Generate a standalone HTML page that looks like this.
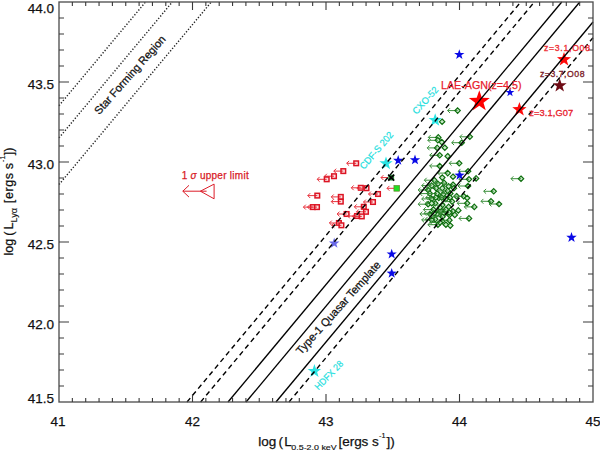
<!DOCTYPE html>
<html><head><meta charset="utf-8"><style>
html,body{margin:0;padding:0;background:#fff;width:600px;height:450px;overflow:hidden}
svg{display:block}
text{font-family:"Liberation Sans",sans-serif}
</style></head><body>
<svg width="600" height="450" viewBox="0 0 600 450">
<rect width="600" height="450" fill="#fff"/>
<g>
<rect x="353.90" y="161.00" width="4.6" height="4.6" fill="#fbe0e2" stroke="none"/>
<path d="M356.20 163.30H346.70M349.10 160.90L346.70 163.30L349.10 165.70" stroke="#e8323c" stroke-width="1.0" fill="none"/>
<rect x="353.90" y="161.00" width="4.6" height="4.6" fill="none" stroke="#dc1424" stroke-width="1.5"/>
<rect x="341.00" y="168.80" width="4.6" height="4.6" fill="#fbe0e2" stroke="none"/>
<path d="M343.30 171.10H333.80M336.20 168.70L333.80 171.10L336.20 173.50" stroke="#e8323c" stroke-width="1.0" fill="none"/>
<rect x="341.00" y="168.80" width="4.6" height="4.6" fill="none" stroke="#dc1424" stroke-width="1.5"/>
<rect x="331.70" y="173.90" width="4.6" height="4.6" fill="#fbe0e2" stroke="none"/>
<path d="M334.00 176.20H324.50M326.90 173.80L324.50 176.20L326.90 178.60" stroke="#e8323c" stroke-width="1.0" fill="none"/>
<rect x="331.70" y="173.90" width="4.6" height="4.6" fill="none" stroke="#dc1424" stroke-width="1.5"/>
<rect x="324.40" y="177.00" width="4.6" height="4.6" fill="#fbe0e2" stroke="none"/>
<path d="M326.70 179.30H317.20M319.60 176.90L317.20 179.30L319.60 181.70" stroke="#e8323c" stroke-width="1.0" fill="none"/>
<rect x="324.40" y="177.00" width="4.6" height="4.6" fill="none" stroke="#dc1424" stroke-width="1.5"/>
<rect x="358.50" y="185.50" width="4.6" height="4.6" fill="#fbe0e2" stroke="none"/>
<path d="M360.80 187.80H351.30M353.70 185.40L351.30 187.80L353.70 190.20" stroke="#e8323c" stroke-width="1.0" fill="none"/>
<rect x="358.50" y="185.50" width="4.6" height="4.6" fill="none" stroke="#dc1424" stroke-width="1.5"/>
<rect x="364.20" y="185.90" width="4.6" height="4.6" fill="#fbe0e2" stroke="none"/>
<path d="M366.50 188.20H357.00M359.40 185.80L357.00 188.20L359.40 190.60" stroke="#e8323c" stroke-width="1.0" fill="none"/>
<rect x="364.20" y="185.90" width="4.6" height="4.6" fill="none" stroke="#dc1424" stroke-width="1.5"/>
<rect x="375.70" y="191.70" width="4.6" height="4.6" fill="#fbe0e2" stroke="none"/>
<path d="M378.00 194.00H368.50M370.90 191.60L368.50 194.00L370.90 196.40" stroke="#e8323c" stroke-width="1.0" fill="none"/>
<rect x="375.70" y="191.70" width="4.6" height="4.6" fill="none" stroke="#dc1424" stroke-width="1.5"/>
<rect x="315.00" y="193.30" width="4.6" height="4.6" fill="#fbe0e2" stroke="none"/>
<path d="M317.30 195.60H307.80M310.20 193.20L307.80 195.60L310.20 198.00" stroke="#e8323c" stroke-width="1.0" fill="none"/>
<rect x="315.00" y="193.30" width="4.6" height="4.6" fill="none" stroke="#dc1424" stroke-width="1.5"/>
<rect x="338.50" y="194.60" width="4.6" height="4.6" fill="#fbe0e2" stroke="none"/>
<path d="M340.80 196.90H331.30M333.70 194.50L331.30 196.90L333.70 199.30" stroke="#e8323c" stroke-width="1.0" fill="none"/>
<rect x="338.50" y="194.60" width="4.6" height="4.6" fill="none" stroke="#dc1424" stroke-width="1.5"/>
<rect x="338.50" y="199.30" width="4.6" height="4.6" fill="#fbe0e2" stroke="none"/>
<path d="M340.80 201.60H331.30M333.70 199.20L331.30 201.60L333.70 204.00" stroke="#e8323c" stroke-width="1.0" fill="none"/>
<rect x="338.50" y="199.30" width="4.6" height="4.6" fill="none" stroke="#dc1424" stroke-width="1.5"/>
<rect x="310.60" y="204.80" width="4.6" height="4.6" fill="#fbe0e2" stroke="none"/>
<path d="M312.90 207.10H303.40M305.80 204.70L303.40 207.10L305.80 209.50" stroke="#e8323c" stroke-width="1.0" fill="none"/>
<rect x="310.60" y="204.80" width="4.6" height="4.6" fill="none" stroke="#dc1424" stroke-width="1.5"/>
<rect x="314.70" y="204.80" width="4.6" height="4.6" fill="#fbe0e2" stroke="none"/>
<path d="M317.00 207.10H307.50M309.90 204.70L307.50 207.10L309.90 209.50" stroke="#e8323c" stroke-width="1.0" fill="none"/>
<rect x="314.70" y="204.80" width="4.6" height="4.6" fill="none" stroke="#dc1424" stroke-width="1.5"/>
<rect x="370.70" y="199.70" width="4.6" height="4.6" fill="#fbe0e2" stroke="none"/>
<path d="M373.00 202.00H363.50M365.90 199.60L363.50 202.00L365.90 204.40" stroke="#e8323c" stroke-width="1.0" fill="none"/>
<rect x="370.70" y="199.70" width="4.6" height="4.6" fill="none" stroke="#dc1424" stroke-width="1.5"/>
<rect x="361.50" y="204.50" width="4.6" height="4.6" fill="#fbe0e2" stroke="none"/>
<path d="M363.80 206.80H354.30M356.70 204.40L354.30 206.80L356.70 209.20" stroke="#e8323c" stroke-width="1.0" fill="none"/>
<rect x="361.50" y="204.50" width="4.6" height="4.6" fill="none" stroke="#dc1424" stroke-width="1.5"/>
<rect x="363.70" y="209.50" width="4.6" height="4.6" fill="#fbe0e2" stroke="none"/>
<path d="M366.00 211.80H356.50M358.90 209.40L356.50 211.80L358.90 214.20" stroke="#e8323c" stroke-width="1.0" fill="none"/>
<rect x="363.70" y="209.50" width="4.6" height="4.6" fill="none" stroke="#dc1424" stroke-width="1.5"/>
<rect x="344.30" y="211.70" width="4.6" height="4.6" fill="#fbe0e2" stroke="none"/>
<path d="M346.60 214.00H337.10M339.50 211.60L337.10 214.00L339.50 216.40" stroke="#e8323c" stroke-width="1.0" fill="none"/>
<rect x="344.30" y="211.70" width="4.6" height="4.6" fill="none" stroke="#dc1424" stroke-width="1.5"/>
<rect x="354.70" y="213.70" width="4.6" height="4.6" fill="#fbe0e2" stroke="none"/>
<path d="M357.00 216.00H347.50M349.90 213.60L347.50 216.00L349.90 218.40" stroke="#e8323c" stroke-width="1.0" fill="none"/>
<rect x="354.70" y="213.70" width="4.6" height="4.6" fill="none" stroke="#dc1424" stroke-width="1.5"/>
<rect x="359.50" y="214.10" width="4.6" height="4.6" fill="#fbe0e2" stroke="none"/>
<path d="M361.80 216.40H352.30M354.70 214.00L352.30 216.40L354.70 218.80" stroke="#e8323c" stroke-width="1.0" fill="none"/>
<rect x="359.50" y="214.10" width="4.6" height="4.6" fill="none" stroke="#dc1424" stroke-width="1.5"/>
<rect x="336.60" y="220.70" width="4.6" height="4.6" fill="#fbe0e2" stroke="none"/>
<path d="M338.90 223.00H329.40M331.80 220.60L329.40 223.00L331.80 225.40" stroke="#e8323c" stroke-width="1.0" fill="none"/>
<rect x="336.60" y="220.70" width="4.6" height="4.6" fill="none" stroke="#dc1424" stroke-width="1.5"/>
<rect x="339.10" y="223.00" width="4.6" height="4.6" fill="#fbe0e2" stroke="none"/>
<path d="M341.40 225.30H331.90M334.30 222.90L331.90 225.30L334.30 227.70" stroke="#e8323c" stroke-width="1.0" fill="none"/>
<rect x="339.10" y="223.00" width="4.6" height="4.6" fill="none" stroke="#dc1424" stroke-width="1.5"/>
<path d="M439.70 152.60L442.40 155.30L439.70 158.00L437.00 155.30Z" fill="#c8e8c8"/>
<path d="M439.70 155.30H429.70M432.10 152.90L429.70 155.30L432.10 157.70" stroke="#3b8f3b" stroke-width="1.0" fill="none"/>
<path d="M439.70 152.60L442.40 155.30L439.70 158.00L437.00 155.30Z" fill="none" stroke="#0e6e0e" stroke-width="1.2"/>
<path d="M447.70 153.50L450.40 156.20L447.70 158.90L445.00 156.20Z" fill="#c8e8c8"/>
<path d="M447.70 153.50L450.40 156.20L447.70 158.90L445.00 156.20Z" fill="none" stroke="#0e6e0e" stroke-width="1.2"/>
<path d="M439.70 163.30L442.40 166.00L439.70 168.70L437.00 166.00Z" fill="#c8e8c8"/>
<path d="M439.70 166.00H429.70M432.10 163.60L429.70 166.00L432.10 168.40" stroke="#3b8f3b" stroke-width="1.0" fill="none"/>
<path d="M439.70 163.30L442.40 166.00L439.70 168.70L437.00 166.00Z" fill="none" stroke="#0e6e0e" stroke-width="1.2"/>
<path d="M459.20 160.60L461.90 163.30L459.20 166.00L456.50 163.30Z" fill="#c8e8c8"/>
<path d="M459.20 163.30H449.20M451.60 160.90L449.20 163.30L451.60 165.70" stroke="#3b8f3b" stroke-width="1.0" fill="none"/>
<path d="M459.20 160.60L461.90 163.30L459.20 166.00L456.50 163.30Z" fill="none" stroke="#0e6e0e" stroke-width="1.2"/>
<path d="M447.70 170.40L450.40 173.10L447.70 175.80L445.00 173.10Z" fill="#c8e8c8"/>
<path d="M447.70 173.10H437.70M440.10 170.70L437.70 173.10L440.10 175.50" stroke="#3b8f3b" stroke-width="1.0" fill="none"/>
<path d="M447.70 170.40L450.40 173.10L447.70 175.80L445.00 173.10Z" fill="none" stroke="#0e6e0e" stroke-width="1.2"/>
<path d="M442.30 174.90L445.00 177.60L442.30 180.30L439.60 177.60Z" fill="#c8e8c8"/>
<path d="M442.30 174.90L445.00 177.60L442.30 180.30L439.60 177.60Z" fill="none" stroke="#0e6e0e" stroke-width="1.2"/>
<path d="M453.00 174.00L455.70 176.70L453.00 179.40L450.30 176.70Z" fill="#c8e8c8"/>
<path d="M453.00 174.00L455.70 176.70L453.00 179.40L450.30 176.70Z" fill="none" stroke="#0e6e0e" stroke-width="1.2"/>
<path d="M468.10 168.60L470.80 171.30L468.10 174.00L465.40 171.30Z" fill="#c8e8c8"/>
<path d="M468.10 171.30H458.10M460.50 168.90L458.10 171.30L460.50 173.70" stroke="#3b8f3b" stroke-width="1.0" fill="none"/>
<path d="M468.10 168.60L470.80 171.30L468.10 174.00L465.40 171.30Z" fill="none" stroke="#0e6e0e" stroke-width="1.2"/>
<path d="M469.00 176.60L471.70 179.30L469.00 182.00L466.30 179.30Z" fill="#c8e8c8"/>
<path d="M469.00 179.30H459.00M461.40 176.90L459.00 179.30L461.40 181.70" stroke="#3b8f3b" stroke-width="1.0" fill="none"/>
<path d="M469.00 176.60L471.70 179.30L469.00 182.00L466.30 179.30Z" fill="none" stroke="#0e6e0e" stroke-width="1.2"/>
<path d="M476.10 175.70L478.80 178.40L476.10 181.10L473.40 178.40Z" fill="#c8e8c8"/>
<path d="M476.10 175.70L478.80 178.40L476.10 181.10L473.40 178.40Z" fill="none" stroke="#0e6e0e" stroke-width="1.2"/>
<path d="M434.30 177.50L437.00 180.20L434.30 182.90L431.60 180.20Z" fill="#c8e8c8"/>
<path d="M434.30 180.20H424.30M426.70 177.80L424.30 180.20L426.70 182.60" stroke="#3b8f3b" stroke-width="1.0" fill="none"/>
<path d="M434.30 177.50L437.00 180.20L434.30 182.90L431.60 180.20Z" fill="none" stroke="#0e6e0e" stroke-width="1.2"/>
<path d="M431.70 182.90L434.40 185.60L431.70 188.30L429.00 185.60Z" fill="#c8e8c8"/>
<path d="M431.70 185.60H421.70M424.10 183.20L421.70 185.60L424.10 188.00" stroke="#3b8f3b" stroke-width="1.0" fill="none"/>
<path d="M431.70 182.90L434.40 185.60L431.70 188.30L429.00 185.60Z" fill="none" stroke="#0e6e0e" stroke-width="1.2"/>
<path d="M437.90 181.10L440.60 183.80L437.90 186.50L435.20 183.80Z" fill="#c8e8c8"/>
<path d="M437.90 183.80H427.90M430.30 181.40L427.90 183.80L430.30 186.20" stroke="#3b8f3b" stroke-width="1.0" fill="none"/>
<path d="M437.90 181.10L440.60 183.80L437.90 186.50L435.20 183.80Z" fill="none" stroke="#0e6e0e" stroke-width="1.2"/>
<path d="M444.10 180.20L446.80 182.90L444.10 185.60L441.40 182.90Z" fill="#c8e8c8"/>
<path d="M444.10 182.90H434.10M436.50 180.50L434.10 182.90L436.50 185.30" stroke="#3b8f3b" stroke-width="1.0" fill="none"/>
<path d="M444.10 180.20L446.80 182.90L444.10 185.60L441.40 182.90Z" fill="none" stroke="#0e6e0e" stroke-width="1.2"/>
<path d="M448.60 183.70L451.30 186.40L448.60 189.10L445.90 186.40Z" fill="#c8e8c8"/>
<path d="M448.60 183.70L451.30 186.40L448.60 189.10L445.90 186.40Z" fill="none" stroke="#0e6e0e" stroke-width="1.2"/>
<path d="M453.00 182.00L455.70 184.70L453.00 187.40L450.30 184.70Z" fill="#c8e8c8"/>
<path d="M453.00 184.70H443.00M445.40 182.30L443.00 184.70L445.40 187.10" stroke="#3b8f3b" stroke-width="1.0" fill="none"/>
<path d="M453.00 182.00L455.70 184.70L453.00 187.40L450.30 184.70Z" fill="none" stroke="#0e6e0e" stroke-width="1.2"/>
<path d="M428.10 187.30L430.80 190.00L428.10 192.70L425.40 190.00Z" fill="#c8e8c8"/>
<path d="M428.10 190.00H418.10M420.50 187.60L418.10 190.00L420.50 192.40" stroke="#3b8f3b" stroke-width="1.0" fill="none"/>
<path d="M428.10 187.30L430.80 190.00L428.10 192.70L425.40 190.00Z" fill="none" stroke="#0e6e0e" stroke-width="1.2"/>
<path d="M436.10 185.50L438.80 188.20L436.10 190.90L433.40 188.20Z" fill="#c8e8c8"/>
<path d="M436.10 188.20H426.10M428.50 185.80L426.10 188.20L428.50 190.60" stroke="#3b8f3b" stroke-width="1.0" fill="none"/>
<path d="M436.10 185.50L438.80 188.20L436.10 190.90L433.40 188.20Z" fill="none" stroke="#0e6e0e" stroke-width="1.2"/>
<path d="M442.30 185.50L445.00 188.20L442.30 190.90L439.60 188.20Z" fill="#c8e8c8"/>
<path d="M442.30 185.50L445.00 188.20L442.30 190.90L439.60 188.20Z" fill="none" stroke="#0e6e0e" stroke-width="1.2"/>
<path d="M447.70 188.20L450.40 190.90L447.70 193.60L445.00 190.90Z" fill="#c8e8c8"/>
<path d="M447.70 190.90H437.70M440.10 188.50L437.70 190.90L440.10 193.30" stroke="#3b8f3b" stroke-width="1.0" fill="none"/>
<path d="M447.70 188.20L450.40 190.90L447.70 193.60L445.00 190.90Z" fill="none" stroke="#0e6e0e" stroke-width="1.2"/>
<path d="M453.90 185.50L456.60 188.20L453.90 190.90L451.20 188.20Z" fill="#c8e8c8"/>
<path d="M453.90 185.50L456.60 188.20L453.90 190.90L451.20 188.20Z" fill="none" stroke="#0e6e0e" stroke-width="1.2"/>
<path d="M429.90 190.90L432.60 193.60L429.90 196.30L427.20 193.60Z" fill="#c8e8c8"/>
<path d="M429.90 193.60H419.90M422.30 191.20L419.90 193.60L422.30 196.00" stroke="#3b8f3b" stroke-width="1.0" fill="none"/>
<path d="M429.90 190.90L432.60 193.60L429.90 196.30L427.20 193.60Z" fill="none" stroke="#0e6e0e" stroke-width="1.2"/>
<path d="M437.00 190.90L439.70 193.60L437.00 196.30L434.30 193.60Z" fill="#c8e8c8"/>
<path d="M437.00 193.60H427.00M429.40 191.20L427.00 193.60L429.40 196.00" stroke="#3b8f3b" stroke-width="1.0" fill="none"/>
<path d="M437.00 190.90L439.70 193.60L437.00 196.30L434.30 193.60Z" fill="none" stroke="#0e6e0e" stroke-width="1.2"/>
<path d="M443.20 191.70L445.90 194.40L443.20 197.10L440.50 194.40Z" fill="#c8e8c8"/>
<path d="M443.20 191.70L445.90 194.40L443.20 197.10L440.50 194.40Z" fill="none" stroke="#0e6e0e" stroke-width="1.2"/>
<path d="M450.30 190.90L453.00 193.60L450.30 196.30L447.60 193.60Z" fill="#c8e8c8"/>
<path d="M450.30 193.60H440.30M442.70 191.20L440.30 193.60L442.70 196.00" stroke="#3b8f3b" stroke-width="1.0" fill="none"/>
<path d="M450.30 190.90L453.00 193.60L450.30 196.30L447.60 193.60Z" fill="none" stroke="#0e6e0e" stroke-width="1.2"/>
<path d="M456.60 193.50L459.30 196.20L456.60 198.90L453.90 196.20Z" fill="#c8e8c8"/>
<path d="M456.60 193.50L459.30 196.20L456.60 198.90L453.90 196.20Z" fill="none" stroke="#0e6e0e" stroke-width="1.2"/>
<path d="M463.70 193.50L466.40 196.20L463.70 198.90L461.00 196.20Z" fill="#c8e8c8"/>
<path d="M463.70 196.20H453.70M456.10 193.80L453.70 196.20L456.10 198.60" stroke="#3b8f3b" stroke-width="1.0" fill="none"/>
<path d="M463.70 193.50L466.40 196.20L463.70 198.90L461.00 196.20Z" fill="none" stroke="#0e6e0e" stroke-width="1.2"/>
<path d="M467.20 195.30L469.90 198.00L467.20 200.70L464.50 198.00Z" fill="#c8e8c8"/>
<path d="M467.20 195.30L469.90 198.00L467.20 200.70L464.50 198.00Z" fill="none" stroke="#0e6e0e" stroke-width="1.2"/>
<path d="M431.70 196.20L434.40 198.90L431.70 201.60L429.00 198.90Z" fill="#c8e8c8"/>
<path d="M431.70 198.90H421.70M424.10 196.50L421.70 198.90L424.10 201.30" stroke="#3b8f3b" stroke-width="1.0" fill="none"/>
<path d="M431.70 196.20L434.40 198.90L431.70 201.60L429.00 198.90Z" fill="none" stroke="#0e6e0e" stroke-width="1.2"/>
<path d="M438.80 195.30L441.50 198.00L438.80 200.70L436.10 198.00Z" fill="#c8e8c8"/>
<path d="M438.80 198.00H428.80M431.20 195.60L428.80 198.00L431.20 200.40" stroke="#3b8f3b" stroke-width="1.0" fill="none"/>
<path d="M438.80 195.30L441.50 198.00L438.80 200.70L436.10 198.00Z" fill="none" stroke="#0e6e0e" stroke-width="1.2"/>
<path d="M445.90 196.20L448.60 198.90L445.90 201.60L443.20 198.90Z" fill="#c8e8c8"/>
<path d="M445.90 196.20L448.60 198.90L445.90 201.60L443.20 198.90Z" fill="none" stroke="#0e6e0e" stroke-width="1.2"/>
<path d="M452.10 198.90L454.80 201.60L452.10 204.30L449.40 201.60Z" fill="#c8e8c8"/>
<path d="M452.10 201.60H442.10M444.50 199.20L442.10 201.60L444.50 204.00" stroke="#3b8f3b" stroke-width="1.0" fill="none"/>
<path d="M452.10 198.90L454.80 201.60L452.10 204.30L449.40 201.60Z" fill="none" stroke="#0e6e0e" stroke-width="1.2"/>
<path d="M467.20 200.60L469.90 203.30L467.20 206.00L464.50 203.30Z" fill="#c8e8c8"/>
<path d="M467.20 203.30H457.20M459.60 200.90L457.20 203.30L459.60 205.70" stroke="#3b8f3b" stroke-width="1.0" fill="none"/>
<path d="M467.20 200.60L469.90 203.30L467.20 206.00L464.50 203.30Z" fill="none" stroke="#0e6e0e" stroke-width="1.2"/>
<path d="M474.30 204.20L477.00 206.90L474.30 209.60L471.60 206.90Z" fill="#c8e8c8"/>
<path d="M474.30 206.90H464.30M466.70 204.50L464.30 206.90L466.70 209.30" stroke="#3b8f3b" stroke-width="1.0" fill="none"/>
<path d="M474.30 204.20L477.00 206.90L474.30 209.60L471.60 206.90Z" fill="none" stroke="#0e6e0e" stroke-width="1.2"/>
<path d="M428.10 201.50L430.80 204.20L428.10 206.90L425.40 204.20Z" fill="#c8e8c8"/>
<path d="M428.10 204.20H418.10M420.50 201.80L418.10 204.20L420.50 206.60" stroke="#3b8f3b" stroke-width="1.0" fill="none"/>
<path d="M428.10 201.50L430.80 204.20L428.10 206.90L425.40 204.20Z" fill="none" stroke="#0e6e0e" stroke-width="1.2"/>
<path d="M435.20 200.60L437.90 203.30L435.20 206.00L432.50 203.30Z" fill="#c8e8c8"/>
<path d="M435.20 203.30H425.20M427.60 200.90L425.20 203.30L427.60 205.70" stroke="#3b8f3b" stroke-width="1.0" fill="none"/>
<path d="M435.20 200.60L437.90 203.30L435.20 206.00L432.50 203.30Z" fill="none" stroke="#0e6e0e" stroke-width="1.2"/>
<path d="M442.30 202.40L445.00 205.10L442.30 207.80L439.60 205.10Z" fill="#c8e8c8"/>
<path d="M442.30 205.10H432.30M434.70 202.70L432.30 205.10L434.70 207.50" stroke="#3b8f3b" stroke-width="1.0" fill="none"/>
<path d="M442.30 202.40L445.00 205.10L442.30 207.80L439.60 205.10Z" fill="none" stroke="#0e6e0e" stroke-width="1.2"/>
<path d="M448.60 204.20L451.30 206.90L448.60 209.60L445.90 206.90Z" fill="#c8e8c8"/>
<path d="M448.60 204.20L451.30 206.90L448.60 209.60L445.90 206.90Z" fill="none" stroke="#0e6e0e" stroke-width="1.2"/>
<path d="M458.30 207.70L461.00 210.40L458.30 213.10L455.60 210.40Z" fill="#c8e8c8"/>
<path d="M458.30 207.70L461.00 210.40L458.30 213.10L455.60 210.40Z" fill="none" stroke="#0e6e0e" stroke-width="1.2"/>
<path d="M433.40 206.90L436.10 209.60L433.40 212.30L430.70 209.60Z" fill="#c8e8c8"/>
<path d="M433.40 209.60H423.40M425.80 207.20L423.40 209.60L425.80 212.00" stroke="#3b8f3b" stroke-width="1.0" fill="none"/>
<path d="M433.40 206.90L436.10 209.60L433.40 212.30L430.70 209.60Z" fill="none" stroke="#0e6e0e" stroke-width="1.2"/>
<path d="M440.60 207.70L443.30 210.40L440.60 213.10L437.90 210.40Z" fill="#c8e8c8"/>
<path d="M440.60 207.70L443.30 210.40L440.60 213.10L437.90 210.40Z" fill="none" stroke="#0e6e0e" stroke-width="1.2"/>
<path d="M445.90 206.90L448.60 209.60L445.90 212.30L443.20 209.60Z" fill="#c8e8c8"/>
<path d="M445.90 209.60H435.90M438.30 207.20L435.90 209.60L438.30 212.00" stroke="#3b8f3b" stroke-width="1.0" fill="none"/>
<path d="M445.90 206.90L448.60 209.60L445.90 212.30L443.20 209.60Z" fill="none" stroke="#0e6e0e" stroke-width="1.2"/>
<path d="M453.00 208.60L455.70 211.30L453.00 214.00L450.30 211.30Z" fill="#c8e8c8"/>
<path d="M453.00 211.30H443.00M445.40 208.90L443.00 211.30L445.40 213.70" stroke="#3b8f3b" stroke-width="1.0" fill="none"/>
<path d="M453.00 208.60L455.70 211.30L453.00 214.00L450.30 211.30Z" fill="none" stroke="#0e6e0e" stroke-width="1.2"/>
<path d="M429.90 211.30L432.60 214.00L429.90 216.70L427.20 214.00Z" fill="#c8e8c8"/>
<path d="M429.90 214.00H419.90M422.30 211.60L419.90 214.00L422.30 216.40" stroke="#3b8f3b" stroke-width="1.0" fill="none"/>
<path d="M429.90 211.30L432.60 214.00L429.90 216.70L427.20 214.00Z" fill="none" stroke="#0e6e0e" stroke-width="1.2"/>
<path d="M437.00 211.30L439.70 214.00L437.00 216.70L434.30 214.00Z" fill="#c8e8c8"/>
<path d="M437.00 214.00H427.00M429.40 211.60L427.00 214.00L429.40 216.40" stroke="#3b8f3b" stroke-width="1.0" fill="none"/>
<path d="M437.00 211.30L439.70 214.00L437.00 216.70L434.30 214.00Z" fill="none" stroke="#0e6e0e" stroke-width="1.2"/>
<path d="M443.20 211.30L445.90 214.00L443.20 216.70L440.50 214.00Z" fill="#c8e8c8"/>
<path d="M443.20 211.30L445.90 214.00L443.20 216.70L440.50 214.00Z" fill="none" stroke="#0e6e0e" stroke-width="1.2"/>
<path d="M449.40 212.20L452.10 214.90L449.40 217.60L446.70 214.90Z" fill="#c8e8c8"/>
<path d="M449.40 214.90H439.40M441.80 212.50L439.40 214.90L441.80 217.30" stroke="#3b8f3b" stroke-width="1.0" fill="none"/>
<path d="M449.40 212.20L452.10 214.90L449.40 217.60L446.70 214.90Z" fill="none" stroke="#0e6e0e" stroke-width="1.2"/>
<path d="M454.80 212.20L457.50 214.90L454.80 217.60L452.10 214.90Z" fill="#c8e8c8"/>
<path d="M454.80 212.20L457.50 214.90L454.80 217.60L452.10 214.90Z" fill="none" stroke="#0e6e0e" stroke-width="1.2"/>
<path d="M469.00 215.70L471.70 218.40L469.00 221.10L466.30 218.40Z" fill="#c8e8c8"/>
<path d="M469.00 218.40H459.00M461.40 216.00L459.00 218.40L461.40 220.80" stroke="#3b8f3b" stroke-width="1.0" fill="none"/>
<path d="M469.00 215.70L471.70 218.40L469.00 221.10L466.30 218.40Z" fill="none" stroke="#0e6e0e" stroke-width="1.2"/>
<path d="M435.20 216.60L437.90 219.30L435.20 222.00L432.50 219.30Z" fill="#c8e8c8"/>
<path d="M435.20 219.30H425.20M427.60 216.90L425.20 219.30L427.60 221.70" stroke="#3b8f3b" stroke-width="1.0" fill="none"/>
<path d="M435.20 216.60L437.90 219.30L435.20 222.00L432.50 219.30Z" fill="none" stroke="#0e6e0e" stroke-width="1.2"/>
<path d="M442.30 218.40L445.00 221.10L442.30 223.80L439.60 221.10Z" fill="#c8e8c8"/>
<path d="M442.30 218.40L445.00 221.10L442.30 223.80L439.60 221.10Z" fill="none" stroke="#0e6e0e" stroke-width="1.2"/>
<path d="M449.40 217.50L452.10 220.20L449.40 222.90L446.70 220.20Z" fill="#c8e8c8"/>
<path d="M449.40 220.20H439.40M441.80 217.80L439.40 220.20L441.80 222.60" stroke="#3b8f3b" stroke-width="1.0" fill="none"/>
<path d="M449.40 217.50L452.10 220.20L449.40 222.90L446.70 220.20Z" fill="none" stroke="#0e6e0e" stroke-width="1.2"/>
<path d="M437.90 222.00L440.60 224.70L437.90 227.40L435.20 224.70Z" fill="#c8e8c8"/>
<path d="M437.90 224.70H427.90M430.30 222.30L427.90 224.70L430.30 227.10" stroke="#3b8f3b" stroke-width="1.0" fill="none"/>
<path d="M437.90 222.00L440.60 224.70L437.90 227.40L435.20 224.70Z" fill="none" stroke="#0e6e0e" stroke-width="1.2"/>
<path d="M445.90 222.00L448.60 224.70L445.90 227.40L443.20 224.70Z" fill="#c8e8c8"/>
<path d="M445.90 222.00L448.60 224.70L445.90 227.40L443.20 224.70Z" fill="none" stroke="#0e6e0e" stroke-width="1.2"/>
<path d="M450.30 222.90L453.00 225.60L450.30 228.30L447.60 225.60Z" fill="#c8e8c8"/>
<path d="M450.30 222.90L453.00 225.60L450.30 228.30L447.60 225.60Z" fill="none" stroke="#0e6e0e" stroke-width="1.2"/>
<path d="M457.60 107.90L460.30 110.60L457.60 113.30L454.90 110.60Z" fill="#c8e8c8"/>
<path d="M457.60 110.60H447.60M450.00 108.20L447.60 110.60L450.00 113.00" stroke="#3b8f3b" stroke-width="1.0" fill="none"/>
<path d="M457.60 107.90L460.30 110.60L457.60 113.30L454.90 110.60Z" fill="none" stroke="#0e6e0e" stroke-width="1.2"/>
<path d="M442.10 119.00L444.80 121.70L442.10 124.40L439.40 121.70Z" fill="#c8e8c8"/>
<path d="M442.10 119.00L444.80 121.70L442.10 124.40L439.40 121.70Z" fill="none" stroke="#0e6e0e" stroke-width="1.2"/>
<path d="M438.30 134.70L441.00 137.40L438.30 140.10L435.60 137.40Z" fill="#c8e8c8"/>
<path d="M438.30 137.40H428.30M430.70 135.00L428.30 137.40L430.70 139.80" stroke="#3b8f3b" stroke-width="1.0" fill="none"/>
<path d="M438.30 134.70L441.00 137.40L438.30 140.10L435.60 137.40Z" fill="none" stroke="#0e6e0e" stroke-width="1.2"/>
<path d="M437.80 137.60L440.50 140.30L437.80 143.00L435.10 140.30Z" fill="#c8e8c8"/>
<path d="M437.80 140.30H427.80M430.20 137.90L427.80 140.30L430.20 142.70" stroke="#3b8f3b" stroke-width="1.0" fill="none"/>
<path d="M437.80 137.60L440.50 140.30L437.80 143.00L435.10 140.30Z" fill="none" stroke="#0e6e0e" stroke-width="1.2"/>
<path d="M441.80 139.40L444.50 142.10L441.80 144.80L439.10 142.10Z" fill="#c8e8c8"/>
<path d="M441.80 139.40L444.50 142.10L441.80 144.80L439.10 142.10Z" fill="none" stroke="#0e6e0e" stroke-width="1.2"/>
<path d="M444.80 145.00L447.50 147.70L444.80 150.40L442.10 147.70Z" fill="#c8e8c8"/>
<path d="M444.80 145.00L447.50 147.70L444.80 150.40L442.10 147.70Z" fill="none" stroke="#0e6e0e" stroke-width="1.2"/>
<path d="M437.20 145.20L439.90 147.90L437.20 150.60L434.50 147.90Z" fill="#c8e8c8"/>
<path d="M437.20 147.90H427.20M429.60 145.50L427.20 147.90L429.60 150.30" stroke="#3b8f3b" stroke-width="1.0" fill="none"/>
<path d="M437.20 145.20L439.90 147.90L437.20 150.60L434.50 147.90Z" fill="none" stroke="#0e6e0e" stroke-width="1.2"/>
<path d="M469.80 134.10L472.50 136.80L469.80 139.50L467.10 136.80Z" fill="#c8e8c8"/>
<path d="M469.80 136.80H459.80M462.20 134.40L459.80 136.80L462.20 139.20" stroke="#3b8f3b" stroke-width="1.0" fill="none"/>
<path d="M469.80 134.10L472.50 136.80L469.80 139.50L467.10 136.80Z" fill="none" stroke="#0e6e0e" stroke-width="1.2"/>
<path d="M461.70 140.00L464.40 142.70L461.70 145.40L459.00 142.70Z" fill="#c8e8c8"/>
<path d="M461.70 142.70H451.70M454.10 140.30L451.70 142.70L454.10 145.10" stroke="#3b8f3b" stroke-width="1.0" fill="none"/>
<path d="M461.70 140.00L464.40 142.70L461.70 145.40L459.00 142.70Z" fill="none" stroke="#0e6e0e" stroke-width="1.2"/>
<path d="M521.00 176.00L523.70 178.70L521.00 181.40L518.30 178.70Z" fill="#c8e8c8"/>
<path d="M521.00 178.70H511.00M513.40 176.30L511.00 178.70L513.40 181.10" stroke="#3b8f3b" stroke-width="1.0" fill="none"/>
<path d="M521.00 176.00L523.70 178.70L521.00 181.40L518.30 178.70Z" fill="none" stroke="#0e6e0e" stroke-width="1.2"/>
<path d="M493.70 188.60L496.40 191.30L493.70 194.00L491.00 191.30Z" fill="#c8e8c8"/>
<path d="M493.70 191.30H483.70M486.10 188.90L483.70 191.30L486.10 193.70" stroke="#3b8f3b" stroke-width="1.0" fill="none"/>
<path d="M493.70 188.60L496.40 191.30L493.70 194.00L491.00 191.30Z" fill="none" stroke="#0e6e0e" stroke-width="1.2"/>
<path d="M491.00 198.60L493.70 201.30L491.00 204.00L488.30 201.30Z" fill="#c8e8c8"/>
<path d="M491.00 201.30H481.00M483.40 198.90L481.00 201.30L483.40 203.70" stroke="#3b8f3b" stroke-width="1.0" fill="none"/>
<path d="M491.00 198.60L493.70 201.30L491.00 204.00L488.30 201.30Z" fill="none" stroke="#0e6e0e" stroke-width="1.2"/>
<path d="M499.00 201.30L501.70 204.00L499.00 206.70L496.30 204.00Z" fill="#c8e8c8"/>
<path d="M499.00 204.00H489.00M491.40 201.60L489.00 204.00L491.40 206.40" stroke="#3b8f3b" stroke-width="1.0" fill="none"/>
<path d="M499.00 201.30L501.70 204.00L499.00 206.70L496.30 204.00Z" fill="none" stroke="#0e6e0e" stroke-width="1.2"/>
<path d="M435.80 194.80L438.50 197.50L435.80 200.20L433.10 197.50Z" fill="#c8e8c8"/>
<path d="M435.80 197.50H425.80M428.20 195.10L425.80 197.50L428.20 199.90" stroke="#3b8f3b" stroke-width="1.0" fill="none"/>
<path d="M435.80 194.80L438.50 197.50L435.80 200.20L433.10 197.50Z" fill="none" stroke="#0e6e0e" stroke-width="1.2"/>
<path d="M441.70 194.80L444.40 197.50L441.70 200.20L439.00 197.50Z" fill="#c8e8c8"/>
<path d="M441.70 194.80L444.40 197.50L441.70 200.20L439.00 197.50Z" fill="none" stroke="#0e6e0e" stroke-width="1.2"/>
<path d="M450.00 194.80L452.70 197.50L450.00 200.20L447.30 197.50Z" fill="#c8e8c8"/>
<path d="M450.00 197.50H440.00M442.40 195.10L440.00 197.50L442.40 199.90" stroke="#3b8f3b" stroke-width="1.0" fill="none"/>
<path d="M450.00 194.80L452.70 197.50L450.00 200.20L447.30 197.50Z" fill="none" stroke="#0e6e0e" stroke-width="1.2"/>
<path d="M431.70 200.60L434.40 203.30L431.70 206.00L429.00 203.30Z" fill="#c8e8c8"/>
<path d="M431.70 200.60L434.40 203.30L431.70 206.00L429.00 203.30Z" fill="none" stroke="#0e6e0e" stroke-width="1.2"/>
<path d="M440.00 204.80L442.70 207.50L440.00 210.20L437.30 207.50Z" fill="#c8e8c8"/>
<path d="M440.00 204.80L442.70 207.50L440.00 210.20L437.30 207.50Z" fill="none" stroke="#0e6e0e" stroke-width="1.2"/>
<path d="M434.00 210.60L436.70 213.30L434.00 216.00L431.30 213.30Z" fill="#c8e8c8"/>
<path d="M434.00 213.30H424.00M426.40 210.90L424.00 213.30L426.40 215.70" stroke="#3b8f3b" stroke-width="1.0" fill="none"/>
<path d="M434.00 210.60L436.70 213.30L434.00 216.00L431.30 213.30Z" fill="none" stroke="#0e6e0e" stroke-width="1.2"/>
<path d="M442.50 214.00L445.20 216.70L442.50 219.40L439.80 216.70Z" fill="#c8e8c8"/>
<path d="M442.50 216.70H432.50M434.90 214.30L432.50 216.70L434.90 219.10" stroke="#3b8f3b" stroke-width="1.0" fill="none"/>
<path d="M442.50 214.00L445.20 216.70L442.50 219.40L439.80 216.70Z" fill="none" stroke="#0e6e0e" stroke-width="1.2"/>
<path d="M449.20 209.80L451.90 212.50L449.20 215.20L446.50 212.50Z" fill="#c8e8c8"/>
<path d="M449.20 212.50H439.20M441.60 210.10L439.20 212.50L441.60 214.90" stroke="#3b8f3b" stroke-width="1.0" fill="none"/>
<path d="M449.20 209.80L451.90 212.50L449.20 215.20L446.50 212.50Z" fill="none" stroke="#0e6e0e" stroke-width="1.2"/>
<path d="M431.70 217.30L434.40 220.00L431.70 222.70L429.00 220.00Z" fill="#c8e8c8"/>
<path d="M431.70 220.00H421.70M424.10 217.60L421.70 220.00L424.10 222.40" stroke="#3b8f3b" stroke-width="1.0" fill="none"/>
<path d="M431.70 217.30L434.40 220.00L431.70 222.70L429.00 220.00Z" fill="none" stroke="#0e6e0e" stroke-width="1.2"/>
<path d="M440.00 219.80L442.70 222.50L440.00 225.20L437.30 222.50Z" fill="#c8e8c8"/>
<path d="M440.00 222.50H430.00M432.40 220.10L430.00 222.50L432.40 224.90" stroke="#3b8f3b" stroke-width="1.0" fill="none"/>
<path d="M440.00 219.80L442.70 222.50L440.00 225.20L437.30 222.50Z" fill="none" stroke="#0e6e0e" stroke-width="1.2"/>
<path d="M468.00 183.30L470.70 186.00L468.00 188.70L465.30 186.00Z" fill="#c8e8c8"/>
<path d="M468.00 186.00H458.00M460.40 183.60L458.00 186.00L460.40 188.40" stroke="#3b8f3b" stroke-width="1.0" fill="none"/>
<path d="M468.00 183.30L470.70 186.00L468.00 188.70L465.30 186.00Z" fill="none" stroke="#0e6e0e" stroke-width="1.2"/>
<path d="M388.00 177.60H381.00M383.40 175.20L381.00 177.60L383.40 180.00" stroke="#e8323c" stroke-width="1.0" fill="none"/>
<rect x="388.3" y="174.7" width="5.8" height="5.8" fill="#2a8a3a"/>
<path d="M388.2 174.6L394.2 180.6M394.2 174.6L388.2 180.6" stroke="#000" stroke-width="1.6"/>
<path d="M394.00 188.30H387.00M389.40 185.90L387.00 188.30L389.40 190.70" stroke="#e8323c" stroke-width="1.0" fill="none"/>
<rect x="393.9" y="185.4" width="5.8" height="5.8" fill="#22dd22" stroke="#6a7a2a" stroke-width="0.6"/>
<polygon points="479.30,90.30 481.89,97.74 489.76,97.90 483.48,102.66 485.77,110.20 479.30,105.70 472.83,110.20 475.12,102.66 468.84,97.90 476.71,97.74" fill="#ff0000"/>
<polygon points="564.00,52.10 565.74,57.11 571.04,57.21 566.82,60.41 568.35,65.49 564.00,62.46 559.65,65.49 561.18,60.41 556.96,57.21 562.26,57.11" fill="#ff0a0a"/>
<polygon points="559.70,78.20 561.42,83.14 566.64,83.24 562.48,86.40 563.99,91.41 559.70,88.42 555.41,91.41 556.92,86.40 552.76,83.24 557.98,83.14" fill="#6e0a14"/>
<polygon points="519.40,102.00 521.16,107.07 526.53,107.18 522.25,110.43 523.81,115.57 519.40,112.50 514.99,115.57 516.55,110.43 512.27,107.18 517.64,107.07" fill="#ff0a0a"/>
<polygon points="459.30,49.30 460.57,52.95 464.44,53.03 461.35,55.37 462.47,59.07 459.30,56.86 456.13,59.07 457.25,55.37 454.16,53.03 458.03,52.95" fill="#0a0ae6"/>
<polygon points="510.00,87.90 511.08,91.01 514.37,91.08 511.75,93.07 512.70,96.22 510.00,94.34 507.30,96.22 508.25,93.07 505.63,91.08 508.92,91.01" fill="#0a0ae6"/>
<polygon points="398.20,155.10 399.47,158.75 403.34,158.83 400.25,161.17 401.37,164.87 398.20,162.66 395.03,164.87 396.15,161.17 393.06,158.83 396.93,158.75" fill="#0a0ae6"/>
<polygon points="415.00,154.60 416.27,158.25 420.14,158.33 417.05,160.67 418.17,164.37 415.00,162.16 411.83,164.37 412.95,160.67 409.86,158.33 413.73,158.25" fill="#0a0ae6"/>
<polygon points="459.60,169.90 460.87,173.55 464.74,173.63 461.65,175.97 462.77,179.67 459.60,177.46 456.43,179.67 457.55,175.97 454.46,173.63 458.33,173.55" fill="#0a0ae6"/>
<polygon points="571.50,232.00 572.79,235.72 576.73,235.80 573.59,238.18 574.73,241.95 571.50,239.70 568.27,241.95 569.41,238.18 566.27,235.80 570.21,235.72" fill="#0a0ae6"/>
<polygon points="334.20,237.60 335.52,241.39 339.53,241.47 336.33,243.89 337.49,247.73 334.20,245.44 330.91,247.73 332.07,243.89 328.87,241.47 332.88,241.39" fill="#6a6ae8"/>
<polygon points="391.70,248.80 392.97,252.45 396.84,252.53 393.75,254.87 394.87,258.57 391.70,256.36 388.53,258.57 389.65,254.87 386.56,252.53 390.43,252.45" fill="#0a0ae6"/>
<polygon points="391.70,267.90 392.97,271.55 396.84,271.63 393.75,273.97 394.87,277.67 391.70,275.46 388.53,277.67 389.65,273.97 386.56,271.63 390.43,271.55" fill="#0a0ae6"/>
<polygon points="386.00,156.50 387.65,161.23 392.66,161.34 388.66,164.37 390.11,169.16 386.00,166.30 381.89,169.16 383.34,164.37 379.34,161.34 384.35,161.23" fill="#2ae4e4"/>
<polygon points="435.20,113.20 436.85,117.93 441.86,118.04 437.86,121.07 439.31,125.86 435.20,123.00 431.09,125.86 432.54,121.07 428.54,118.04 433.55,117.93" fill="#2ae4e4"/>
<polygon points="314.40,364.10 316.07,368.90 321.15,369.01 317.10,372.08 318.57,376.94 314.40,374.04 310.23,376.94 311.70,372.08 307.65,369.01 312.73,368.90" fill="#2ae4e4"/>
</g>
<line x1="59.00" y1="105.68" x2="145.51" y2="2.00" stroke="#222" stroke-width="1.4" stroke-dasharray="1.3 1.8"/>
<line x1="59.00" y1="137.84" x2="172.34" y2="2.00" stroke="#222" stroke-width="1.4" stroke-dasharray="1.3 1.8"/>
<line x1="59.00" y1="184.56" x2="211.32" y2="2.00" stroke="#222" stroke-width="1.4" stroke-dasharray="1.3 1.8"/>
<line x1="187.03" y1="402.00" x2="520.78" y2="2.00" stroke="#000" stroke-width="1.4" stroke-dasharray="5 3.7"/>
<line x1="200.64" y1="402.00" x2="534.39" y2="2.00" stroke="#000" stroke-width="1.4" stroke-dasharray="5 3.7"/>
<line x1="289.02" y1="402.00" x2="593.00" y2="37.68" stroke="#000" stroke-width="1.4" stroke-dasharray="5 3.7"/>
<line x1="228.01" y1="402.00" x2="561.76" y2="2.00" stroke="#000" stroke-width="1.35"/>
<line x1="246.03" y1="402.00" x2="579.78" y2="2.00" stroke="#000" stroke-width="1.35"/>
<line x1="275.94" y1="402.00" x2="593.00" y2="22.00" stroke="#000" stroke-width="1.35"/>
<rect x="59" y="2" width="534" height="400" fill="none" stroke="#505050" stroke-width="1.35"/>
<path d="M72.35 402v-4M72.35 2v4M85.70 402v-4M85.70 2v4M99.05 402v-4M99.05 2v4M112.40 402v-4M112.40 2v4M125.75 402v-4M125.75 2v4M139.10 402v-4M139.10 2v4M152.45 402v-4M152.45 2v4M165.80 402v-4M165.80 2v4M179.15 402v-4M179.15 2v4M192.50 402v-8M192.50 2v8M205.85 402v-4M205.85 2v4M219.20 402v-4M219.20 2v4M232.55 402v-4M232.55 2v4M245.90 402v-4M245.90 2v4M259.25 402v-4M259.25 2v4M272.60 402v-4M272.60 2v4M285.95 402v-4M285.95 2v4M299.30 402v-4M299.30 2v4M312.65 402v-4M312.65 2v4M326.00 402v-8M326.00 2v8M339.35 402v-4M339.35 2v4M352.70 402v-4M352.70 2v4M366.05 402v-4M366.05 2v4M379.40 402v-4M379.40 2v4M392.75 402v-4M392.75 2v4M406.10 402v-4M406.10 2v4M419.45 402v-4M419.45 2v4M432.80 402v-4M432.80 2v4M446.15 402v-4M446.15 2v4M459.50 402v-8M459.50 2v8M472.85 402v-4M472.85 2v4M486.20 402v-4M486.20 2v4M499.55 402v-4M499.55 2v4M512.90 402v-4M512.90 2v4M526.25 402v-4M526.25 2v4M539.60 402v-4M539.60 2v4M552.95 402v-4M552.95 2v4M566.30 402v-4M566.30 2v4M579.65 402v-4M579.65 2v4M59 386.00h5M593 386.00h-5M59 370.00h5M593 370.00h-5M59 354.00h5M593 354.00h-5M59 338.00h5M593 338.00h-5M59 322.00h10M593 322.00h-10M59 306.00h5M593 306.00h-5M59 290.00h5M593 290.00h-5M59 274.00h5M593 274.00h-5M59 258.00h5M593 258.00h-5M59 242.00h10M593 242.00h-10M59 226.00h5M593 226.00h-5M59 210.00h5M593 210.00h-5M59 194.00h5M593 194.00h-5M59 178.00h5M593 178.00h-5M59 162.00h10M593 162.00h-10M59 146.00h5M593 146.00h-5M59 130.00h5M593 130.00h-5M59 114.00h5M593 114.00h-5M59 98.00h5M593 98.00h-5M59 82.00h10M593 82.00h-10M59 66.00h5M593 66.00h-5M59 50.00h5M593 50.00h-5M59 34.00h5M593 34.00h-5M59 18.00h5M593 18.00h-5" stroke="#3a3a3a" stroke-width="1.1" fill="none"/>
<g font-size="13.5" fill="#111" stroke="#111" stroke-width="0.25">
<text x="54" y="13" text-anchor="end">44.0</text>
<text x="54" y="88.5" text-anchor="end">43.5</text>
<text x="54" y="168.5" text-anchor="end">43.0</text>
<text x="54" y="248.5" text-anchor="end">42.5</text>
<text x="54" y="328.5" text-anchor="end">42.0</text>
<text x="54" y="402.5" text-anchor="end">41.5</text>
<text x="58" y="426" text-anchor="middle">41</text>
<text x="192.5" y="426" text-anchor="middle">42</text>
<text x="326" y="426" text-anchor="middle">43</text>
<text x="459.5" y="426" text-anchor="middle">44</text>
<text x="593" y="426" text-anchor="middle">45</text>
</g>
<g fill="#111" stroke="#111" stroke-width="0.25">
<text x="258.3" y="445.6" font-size="13.5">log</text>
<text x="278.5" y="445.6" font-size="13.5">(</text>
<text x="284.3" y="445.6" font-size="13.5">L</text>
<text x="291.3" y="449.6" font-size="7.8" textLength="45.4" lengthAdjust="spacingAndGlyphs" stroke-width="0.15">0.5-2.0 keV</text>
<text x="338.5" y="445.6" font-size="13.5" textLength="40.3" lengthAdjust="spacing">[ergs s</text>
<text x="379" y="437.6" font-size="7.3" stroke-width="0.15">-1</text>
<text x="386.5" y="445.6" font-size="13.5">])</text>
<g transform="translate(13,255.5) rotate(-90)">
<text x="0" y="0" font-size="12.5">log</text>
<text x="19.8" y="0" font-size="12.5">(</text>
<text x="26" y="0" font-size="12.5">L</text>
<text x="33" y="4.3" font-size="9" stroke-width="0.15" textLength="14.5" lengthAdjust="spacingAndGlyphs">Ly&#945;</text>
<text x="52.3" y="0" font-size="12.5" textLength="30.3" lengthAdjust="spacing">[ergs</text>
<text x="86.2" y="0" font-size="12.5">s</text>
<text x="93.6" y="-8" font-size="7" stroke-width="0.15">-1</text>
<text x="100.3" y="0" font-size="12.5">])</text>
</g>
<text transform="translate(99.3,115.3) rotate(-48.5)" font-size="11.2" textLength="101" lengthAdjust="spacingAndGlyphs">Star Forming Region</text>
<text transform="translate(301,355.3) rotate(-48.2)" font-size="11.3" textLength="120.5" lengthAdjust="spacingAndGlyphs">Type-1 Quasar Template</text>
</g>
<g fill="#22dede" stroke="#22dede" stroke-width="0.2">
<text transform="translate(364,170) rotate(-49.4)" font-size="9.6" textLength="46" lengthAdjust="spacingAndGlyphs">CDF-S 202</text>
<text transform="translate(416.5,115) rotate(-47.8)" font-size="9.4" textLength="33.5" lengthAdjust="spacingAndGlyphs">CXO-52</text>
<text transform="translate(318.5,390.5) rotate(-46)" font-size="9.4" textLength="36.5" lengthAdjust="spacingAndGlyphs">HDFX 28</text>
</g>
<text x="441" y="89.2" font-size="11" fill="#e8202c" stroke="#e8202c" stroke-width="0.25" textLength="80.5" lengthAdjust="spacingAndGlyphs">LAE-AGN(z=4.5)</text>
<text x="544" y="51" font-size="8.7" fill="#ee2a30" stroke="#ee2a30" stroke-width="0.3" textLength="46" lengthAdjust="spacing">z=3.1,O08</text>
<text x="540" y="77" font-size="8.7" fill="#7a1a26" stroke="#7a1a26" stroke-width="0.3" textLength="44.5" lengthAdjust="spacing">z=3.7,O08</text>
<text x="529.2" y="116.2" font-size="9.3" fill="#e8202c" stroke="#e8202c" stroke-width="0.3" textLength="44" lengthAdjust="spacing">z=3.1,G07</text>
<text x="181.7" y="178.6" font-size="10" fill="#d81a26" stroke="#d81a26" stroke-width="0.25" textLength="67" lengthAdjust="spacing">1 <tspan font-style="italic">&#963;</tspan> upper limit</text>
<path d="M182.8 191.2H206.6M189 185.3L182.8 191.2L189 197.1M200.4 191.2L214.1 184.1V198.8Z" stroke="#dc1c28" stroke-width="1" fill="none"/>
</svg>
</body></html>
